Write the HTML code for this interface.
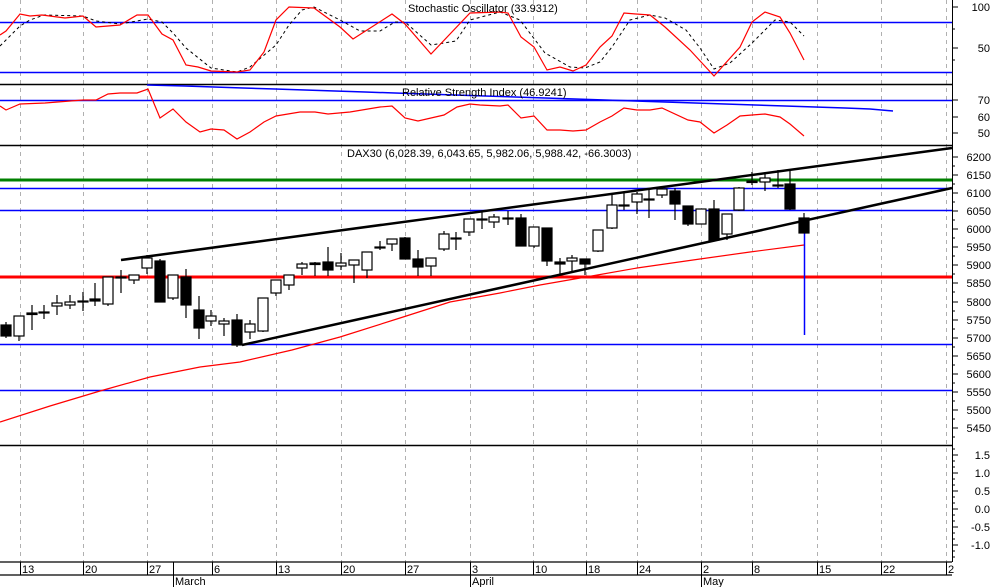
<!DOCTYPE html>
<html><head><meta charset="utf-8"><style>
html,body{margin:0;padding:0;background:#fff;}
svg{display:block;}
text{font-family:"Liberation Sans",sans-serif;font-size:11px;fill:#000;}
</style></head><body>
<svg width="994" height="587" viewBox="0 0 994 587" xmlns="http://www.w3.org/2000/svg">
<rect width="994" height="587" fill="#fff"/>
<!-- gridlines -->
<g stroke="#b0b0b0" stroke-dasharray="4,4" stroke-width="1">
<path d="M20.5 0V562M83.5 0V562M147.5 0V562M212.5 0V562M276.5 0V562M341.5 0V562M405.5 0V562M470.5 0V562M533.5 0V562M586.5 0V562M637.5 0V562M701.5 0V562M752.5 0V562M817.5 0V562M881.5 0V562M946.5 0V562"/>
</g>
<!-- panel separators -->
<g stroke="#000" stroke-width="1.5">
<path d="M0 84.5H952M0 145.5H952M0 445.5H952"/>
</g>
<path d="M952.5 0V562" stroke="#000"/>
<!-- stochastic -->
<path d="M0 22.5H952M0 72.5H952" stroke="#0000ff" stroke-width="1.5"/>
<polyline fill="none" stroke="#000" stroke-dasharray="3,3" points="0,46 20,26 30,20 44,15 83,16 96,21 120,24 148,19 162,22 173,33 186,48 211,68 237,72 250,67 276,45 289,25 302,10 314,7 340,20 360,31 380,31 395,22 405,22 431,45 444,43 456,41 470,20 500,12 520,20 545,53 570,67 585,68 600,62 612,47 630,20 650,15 665,18 686,30 700,48 714,69 730,63 752,43 775,20 790,22 804,36"/>
<polyline fill="none" stroke="#ff0000" stroke-width="1.2" points="0,35 6,31 20,14 30,16 42,15 65,18 83,16 96,27 120,25 137,15 148,15 162,34 173,40 186,65 198,67 211,71 237,72 250,70 264,52 276,20 289,7 314,8 340,27 353,39 392,14 405,24 431,54 470,13 500,12 508,13 521,37 534,47 547,70 560,67 573,71 586,65 600,47 612,36 624,13 636,14 650,15 665,27 690,50 714,76 740,47 752,22 765,12 780,17 790,33 804,60"/>
<text x="408" y="12">Stochastic Oscillator (33.9312)</text>
<!-- RSI -->
<path d="M0 100.5H952" stroke="#0000ff" stroke-width="1.5"/>
<polyline fill="none" stroke="#0000ff" stroke-width="1.5" points="147,85 185,86 214,87 243,88 275,89 305,90 335,91 365,92 395,93 425,94 455,95 485,96 515,97 545,98 575,99 605,100 635,101 665,102 695,103 725,104 755,105 785,106 815,107 845,108 870,109 893,111"/>
<polyline fill="none" stroke="#ff0000" stroke-width="1.2" points="0,106 6,110 20,104 45,103 83,100 96,100 108,94 120,93 137,93 148,89 160,118 173,109 186,122 200,132 211,129 224,130 237,139 250,132 264,122 276,116 300,112 315,112 328,114 350,112 380,107 392,106 405,118 418,121 431,118 444,115 457,107 470,104 480,105 500,106 508,105 521,118 534,116 547,130 560,130 573,131 586,130 600,122 612,116 624,108 637,110 650,110 662,108 688,120 700,122 714,133 727,125 740,116 752,115 765,114 780,117 790,124 804,136"/>
<text x="402" y="96">Relative Strength Index (46.9241)</text>
<!-- main -->
<text x="347" y="157">DAX30 (6,028.39, 6,043.65, 5,982.06, 5,988.42, -66.3003)</text>
<path d="M0 180H952" stroke="#008000" stroke-width="3"/>
<path d="M0 188.5H952M0 210.5H952M0 344.5H952M0 390.5H952" stroke="#0000ff" stroke-width="1.5"/>
<path d="M0 277H952" stroke="#ff0000" stroke-width="3"/>
<polyline fill="none" stroke="#ff0000" stroke-width="1.2" points="0,422 50,406 100,391 150,377 200,367 240,362 292,350 340,337 400,318 450,302 500,293 540,285 586,277 637,268 700,259 750,252 804,245"/>
<path d="M121 260L952 148" stroke="#000" stroke-width="2.5"/>
<path d="M242 345L952 188" stroke="#000" stroke-width="2.5"/>
<path d="M804.5 225V335" stroke="#0000ff" stroke-width="1.5"/>
<g stroke="#000" stroke-width="1.2">
<path d="M6 322V338M19 316V341M32 305V330M44 305V319M57 295V315M70 295V309M83 292V311M95 283V306M108 277V306M121 270V293M134 275V284M147 255V274M160 259V302M173 275V300M186 269V318M199 296V339M211 310V326M224 318V336M237 314V347M250 320V339M263 298V332M276 280V296M289 275V290M302 262V275M315 262V276M328 247V276M341 253V270M354 260V283M367 252V278M380 241V250M392 239V251M405 237V259M418 250V276M431 258V276M444 231V251M456 232V250M469 219V236M482 212V229M494 214V228M508 211V225M521 214V246M534 227V248M547 228V266M560 258V275M572 255V272M585 259V275M598 230V252M612 195V229M624 193V210M637 192V214M649 188V218M662 188V198M675 188V220M688 206V226M701 209V224M714 200V241M727 214V240M739 187V211M752 172V185M765 172V191M778 170V188M790 169V210M804 213V233"/>
</g>
<g stroke="#000" stroke-width="1.2">
<rect x="1" y="325" width="10" height="11" fill="#000"/>
<rect x="14" y="316" width="10" height="20" fill="#fff"/>
<rect x="27" y="313" width="10" height="1.5" fill="#000"/>
<rect x="39" y="312" width="10" height="1" fill="#000"/>
<rect x="52" y="303" width="10" height="3" fill="#fff"/>
<rect x="65" y="302" width="10" height="3" fill="#fff"/>
<rect x="78" y="301" width="10" height="1" fill="#000"/>
<rect x="90" y="299" width="10" height="2" fill="#000"/>
<rect x="103" y="277" width="10" height="27" fill="#fff"/>
<rect x="116" y="277" width="10" height="1" fill="#000"/>
<rect x="129" y="275" width="10" height="5" fill="#fff"/>
<rect x="142" y="258" width="10" height="10" fill="#fff"/>
<rect x="155" y="261" width="10" height="41" fill="#000"/>
<rect x="168" y="275" width="10" height="23" fill="#fff"/>
<rect x="181" y="277" width="10" height="28" fill="#000"/>
<rect x="194" y="310" width="10" height="18" fill="#000"/>
<rect x="206" y="316" width="10" height="5" fill="#fff"/>
<rect x="219" y="321" width="10" height="3" fill="#fff"/>
<rect x="232" y="320" width="10" height="25" fill="#000"/>
<rect x="245" y="324" width="10" height="8" fill="#fff"/>
<rect x="258" y="298" width="10" height="33" fill="#fff"/>
<rect x="271" y="280" width="10" height="13" fill="#fff"/>
<rect x="284" y="275" width="10" height="10" fill="#fff"/>
<rect x="297" y="264" width="10" height="4" fill="#fff"/>
<rect x="310" y="263" width="10" height="1.5" fill="#000"/>
<rect x="323" y="262" width="10" height="8" fill="#000"/>
<rect x="336" y="263" width="10" height="3" fill="#fff"/>
<rect x="349" y="260" width="10" height="5" fill="#fff"/>
<rect x="362" y="252" width="10" height="18" fill="#fff"/>
<rect x="375" y="247" width="10" height="1" fill="#000"/>
<rect x="387" y="239" width="10" height="5" fill="#fff"/>
<rect x="400" y="238" width="10" height="21" fill="#000"/>
<rect x="413" y="259" width="10" height="8" fill="#000"/>
<rect x="426" y="258" width="10" height="8" fill="#fff"/>
<rect x="439" y="234" width="10" height="15" fill="#fff"/>
<rect x="451" y="238" width="10" height="1" fill="#000"/>
<rect x="464" y="219" width="10" height="13" fill="#fff"/>
<rect x="477" y="219" width="10" height="1" fill="#000"/>
<rect x="489" y="217" width="10" height="5" fill="#fff"/>
<rect x="503" y="218" width="10" height="1" fill="#000"/>
<rect x="516" y="218" width="10" height="28" fill="#000"/>
<rect x="529" y="227" width="10" height="19" fill="#fff"/>
<rect x="542" y="228" width="10" height="33" fill="#000"/>
<rect x="555" y="262" width="10" height="2" fill="#000"/>
<rect x="567" y="258" width="10" height="3" fill="#fff"/>
<rect x="580" y="259" width="10" height="5" fill="#000"/>
<rect x="593" y="230" width="10" height="21" fill="#fff"/>
<rect x="607" y="205" width="10" height="23" fill="#fff"/>
<rect x="619" y="205" width="10" height="1" fill="#000"/>
<rect x="632" y="194" width="10" height="8" fill="#fff"/>
<rect x="644" y="199" width="10" height="1" fill="#000"/>
<rect x="657" y="189" width="10" height="6" fill="#fff"/>
<rect x="670" y="191" width="10" height="13" fill="#000"/>
<rect x="683" y="206" width="10" height="18" fill="#000"/>
<rect x="696" y="209" width="10" height="15" fill="#fff"/>
<rect x="709" y="209" width="10" height="31" fill="#000"/>
<rect x="722" y="214" width="10" height="20" fill="#fff"/>
<rect x="734" y="188" width="10" height="22" fill="#fff"/>
<rect x="747" y="181" width="10" height="1.5" fill="#000"/>
<rect x="760" y="178" width="10" height="4" fill="#fff"/>
<rect x="773" y="185" width="10" height="1" fill="#000"/>
<rect x="785" y="184" width="10" height="25" fill="#000"/>
<rect x="799" y="218" width="10" height="15" fill="#000"/>
</g>
<!-- right axis ticks -->
<g stroke="#000">
<path d="M952 7h6M952 29h3M952 48h6M952 60h3"/>
<path d="M952 100h6M952 117h6M952 133h6"/>
<path d="M952 157h6M952 175h6M952 193h6M952 211h6M952 229h6M952 247h6M952 265h6M952 283h6M952 302h6M952 320h6M952 338h6M952 356h6M952 374h6M952 392h6M952 410h6M952 428h6"/>
<path d="M952 166h3M952 184h3M952 202h3M952 220h3M952 238h3M952 256h3M952 274h3M952 292h3M952 311h3M952 329h3M952 347h3M952 365h3M952 383h3M952 401h3M952 419h3M952 437h3"/>
<path d="M952 455h6M952 473h6M952 491h6M952 509h6M952 527h6M952 545h6"/>
<path d="M952 449h3M952 461h3M952 467h3M952 479h3M952 485h3M952 497h3M952 503h3M952 515h3M952 521h3M952 533h3M952 539h3M952 551h3M952 557h3"/>
</g>
<g text-anchor="end">
<text x="990" y="11">100</text><text x="990" y="52">50</text>
<text x="990" y="104">70</text><text x="990" y="121">60</text><text x="990" y="137">50</text>
<text x="991" y="161">6200</text><text x="991" y="179">6150</text><text x="991" y="197">6100</text><text x="991" y="215">6050</text><text x="991" y="233">6000</text><text x="991" y="251">5950</text><text x="991" y="269">5900</text><text x="991" y="287">5850</text><text x="991" y="306">5800</text><text x="991" y="324">5750</text><text x="991" y="342">5700</text><text x="991" y="360">5650</text><text x="991" y="378">5600</text><text x="991" y="396">5550</text><text x="991" y="414">5500</text><text x="991" y="432">5450</text>
<text x="990" y="459">1.5</text><text x="990" y="477">1.0</text><text x="990" y="495">0.5</text><text x="990" y="513">0.0</text><text x="990" y="531">-0.5</text><text x="990" y="549">-1.0</text>
</g>
<!-- x axis -->
<path d="M0 562H952M0 575H952" stroke="#000" stroke-width="1.2"/>
<g stroke="#000">
<path d="M20.5 562V575M83.5 562V575M147.5 562V575M212.5 562V575M276.5 562V575M341.5 562V575M405.5 562V575M470.5 562V575M533.5 562V575M586.5 562V575M637.5 562V575M701.5 562V575M752.5 562V575M817.5 562V575M881.5 562V575M946.5 562V575"/>
<path d="M173.5 562V587M470.5 575V587M701.5 575V587"/>
</g>
<g>
<text x="22" y="573">13</text><text x="85" y="573">20</text><text x="149" y="573">27</text><text x="214" y="573">6</text><text x="278" y="573">13</text><text x="343" y="573">20</text><text x="407" y="573">27</text><text x="472" y="573">3</text><text x="535" y="573">10</text><text x="588" y="573">18</text><text x="639" y="573">24</text><text x="703" y="573">2</text><text x="754" y="573">8</text><text x="819" y="573">15</text><text x="883" y="573">22</text><text x="948" y="573">2</text>
<text x="175" y="585">March</text><text x="472" y="585">April</text><text x="703" y="585">May</text>
</g>
</svg>
</body></html>
